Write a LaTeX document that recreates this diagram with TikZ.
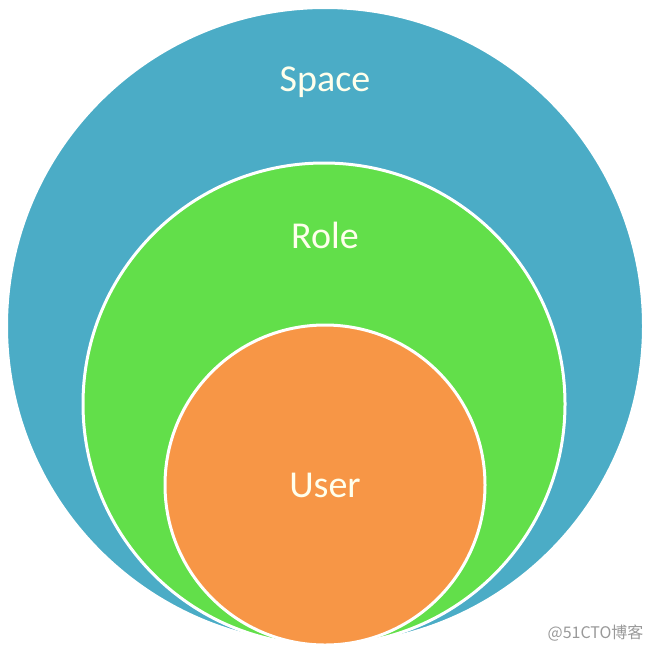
\documentclass[tikz,border=0pt]{standalone}
\usepackage{fontspec}
\setmainfont{Carlito}
\newfontfamily\cjk{Noto Sans CJK SC}
\usetikzlibrary{positioning}
\definecolor{spaceblue}{HTML}{4BACC6}
\definecolor{rolegreen}{HTML}{62DF4A}
\definecolor{userorange}{HTML}{F79646}
\definecolor{labelwhite}{HTML}{FFFFEC}
\tikzset{
venn/.style={
every ring/.style={circle, draw=white, line width=3pt, inner sep=0pt, outer sep=0pt},
every caption/.style={text=labelwhite, font=\fontsize{38}{42}\selectfont, anchor=base},
x=1pt, y=-1pt,
}}
\begin{document}
\begin{tikzpicture}[venn]
\useasboundingbox (0,0) rectangle (655,649);
\node[every ring, fill=spaceblue, minimum size=637pt] (space) at (325,326) {};
\node[every ring, fill=rolegreen, minimum size=482pt] (role) at (324,404) {};
\node[every ring, fill=userorange, minimum size=320pt] (user) at (325,485) {};
%
\node[every caption] (spacetxt) at (325,91) {Space};
\node[every caption] (roletxt) at (325,248) {Role};
\node[every caption] (usertxt) at (325,497) {User};
%
\node[text=black!40, font=\cjk\fontsize{16}{18}\selectfont, anchor=east] (mark) at (647,633) {@51CTO博客};
\end{tikzpicture}
\end{document}
